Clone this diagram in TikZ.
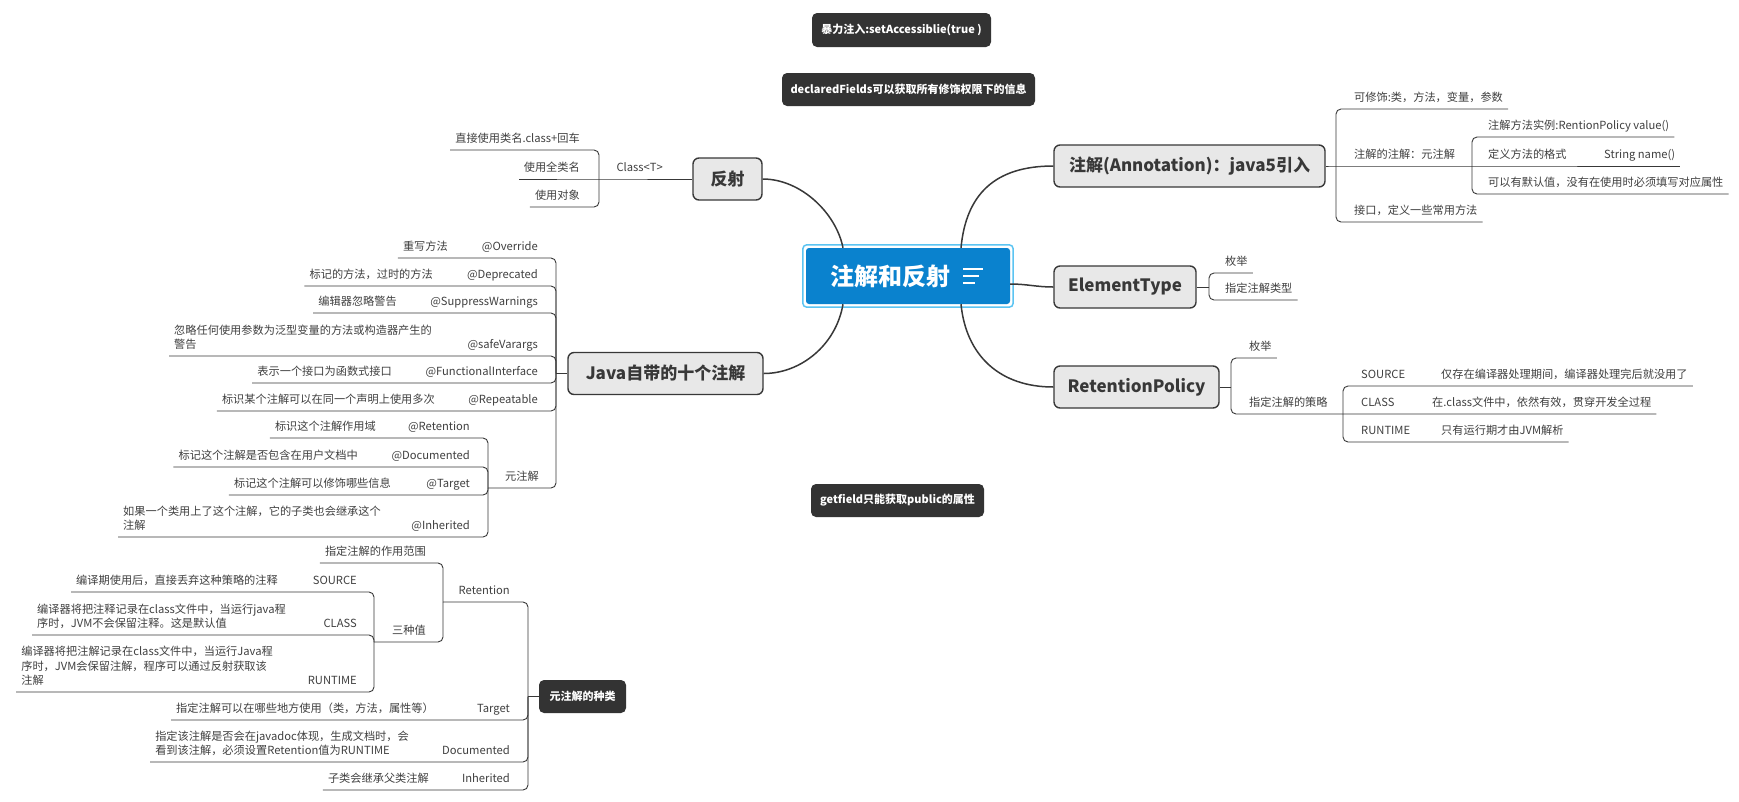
\documentclass[tikz,border=0pt]{standalone}
\usepackage{fontspec}
\setmainfont{Noto Sans CJK SC}
\usetikzlibrary{positioning}
\definecolor{ink}{HTML}{383838}
\definecolor{txt}{HTML}{404040}
\definecolor{topicgray}{HTML}{E8E8E8}
\definecolor{noteblack}{HTML}{333333}
\definecolor{rootblue}{HTML}{0A82CE}
\definecolor{rootedge}{HTML}{5BC4F2}
\newcommand\mlines[1]{\begin{tabular}[b]{@{}l@{}}#1\end{tabular}}
\tikzset{
  root/.style={fill=rootblue, rounded corners=3, minimum width=204, minimum height=56, inner sep=0,
    text=white, font=\fontsize{24}{28}\selectfont\bfseries},
  rootring/.style={draw=rootedge, line width=1.5, rounded corners=4},
  topic/.style={draw=ink, line width=1.4, fill=topicgray, rounded corners=6, minimum height=42,
    inner sep=0, text=ink, font=\fontsize{17}{20}\selectfont\bfseries},
  note/.style={fill=noteblack, rounded corners=5, minimum height=33, inner sep=0,
    text=white, font=\fontsize{11}{13}\selectfont\bfseries},
  leaf/.style={inner xsep=5, inner ysep=0, text depth=7, text=txt, font=\fontsize{11.2}{14.5}\selectfont},
  rleaf/.style={leaf, anchor=south west},
  lleaf/.style={leaf, anchor=south east},
  bline/.style={draw=ink, line width=0.9, rounded corners=5},
  rootlink/.style={draw=ink, line width=1.5},
}
\begin{document}
\begin{tikzpicture}[x=1pt,y=-1pt]
    \useasboundingbox[fill=white] (0,0) rectangle (1739,801);

    % central topic
    \node[root] (ctr) at (908,276) {注解和反射\hspace{36pt}\null};
    \draw[rootring] ([shift={(-3,-3)}]ctr.north west) rectangle ([shift={(3,3)}]ctr.south east);
    \foreach \len/\dy in {20/-7,16/0,12/7}
        \draw[white, line width=2] ([shift={(55,\dy)}]ctr.center) -- ++(\len,0);

    % floating notes
    \node[note, minimum width=179, minimum height=34] (n1) at (901.5,30) {暴力注入:setAccessiblie(true )};
    \node[note, minimum width=253] (n2) at (908.5,89.5) {declaredFields可以获取所有修饰权限下的信息};
    \node[note, minimum width=173] (n3) at (897.5,500.5) {getfield只能获取public的属性};

    % main topics
    \node[topic, minimum width=271] (ann) at (1189.5,166) {注解(Annotation)：java5引入};
    \node[topic, minimum width=142] (et) at (1125,287) {ElementType};
    \node[topic, minimum width=165] (rp) at (1136.5,387) {RetentionPolicy};
    \node[topic, minimum width=69] (fs) at (727.5,179) {反射};
    \node[topic, minimum width=195] (jv) at (665.5,373.5) {Java自带的十个注解};

    \draw[rootlink] ([xshift=-65]ctr.north) .. controls +(-7,-35) and +(38,0) .. (fs.east);
    \draw[rootlink] ([xshift=53]ctr.north) .. controls +(5,-53) and +(-59,0) .. (ann.west);
    \draw[rootlink] ([xshift=-65]ctr.south) .. controls +(-7,41) and +(37,0) .. (jv.east);
    \draw[rootlink] ([xshift=53]ctr.south) .. controls +(5,51) and +(-54,0) .. (rp.west);
    \draw[rootlink] ([yshift=-8]ctr.east) to[out=0,in=180] (et.west);

    % Annotation
    \coordinate (annj) at (1336,166);
    \coordinate (a2j) at (1472,166);
    \node[rleaf] (a1) at (1349,109) {可修饰:类，方法，变量，参数};
    \node[rleaf] (a2) at (1349,166) {注解的注解：元注解};
    \node[rleaf] (a21) at (1483,137) {注解方法实例:RentionPolicy value()};
    \node[rleaf] (a22) at (1483,166) {定义方法的格式};
    \node[rleaf] (a22v) at (1599,166) {String name()};
    \node[rleaf] (a23) at (1483,194) {可以有默认值，没有在使用时必须填写对应属性};
    \node[rleaf] (a3) at (1349,222) {接口，定义一些常用方法};
    \draw[bline] (ann.east) -- (annj) -- (a2j) -- (a22v.south east);
    \foreach \n in {a1,a3} \draw[bline] (annj) |- (\n.south east);
    \foreach \n in {a21,a23} \draw[bline] (a2j) |- (\n.south east);

    % ElementType
    \coordinate (etj) at (1209,287);
    \node[rleaf] (e1) at (1220,273) {枚举};
    \node[rleaf] (e2) at (1220,300) {指定注解类型};
    \draw[bline] (et.east) -- (etj);
    \foreach \n in {e1,e2} \draw[bline] (etj) |- (\n.south east);

    % RetentionPolicy
    \coordinate (rpj) at (1231,387);
    \coordinate (r2j) at (1343,414);
    \node[rleaf] (r1) at (1244,358) {枚举};
    \node[rleaf] (r2) at (1244,414) {指定注解的策略};
    \node[rleaf] (r21) at (1356,386) {SOURCE};
    \node[rleaf] (r21v) at (1436,386) {仅存在编译器处理期间，编译器处理完后就没用了};
    \node[rleaf] (r22) at (1356,414) {CLASS};
    \node[rleaf] (r22v) at (1427,414) {在.class文件中，依然有效，贯穿开发全过程};
    \node[rleaf] (r23) at (1356,442) {RUNTIME};
    \node[rleaf] (r23v) at (1436,442) {只有运行期才由JVM解析};
    \draw[bline] (rp.east) -- (rpj);
    \draw[bline] (rpj) |- (r1.south east);
    \draw[bline] (rpj) |- (r2j) -- (r22v.south east);
    \foreach \n in {r21v,r23v} \draw[bline] (r2j) |- (\n.south east);

    % reflection
    \coordinate (f1j) at (599,179);
    \node[lleaf] (f1) at (668,179) {Class<T>};
    \node[lleaf] (f11) at (585,150) {直接使用类名.class+回车};
    \node[lleaf] (f12) at (585,179) {使用全类名};
    \node[lleaf] (f13) at (585,207) {使用对象};
    \draw[bline] (fs.west) -- (f1j) -- (f12.south west);
    \foreach \n in {f11,f13} \draw[bline] (f1j) |- (\n.south west);

    % Java built-in annotations
    \coordinate (jvj) at (556,373.5);
    \coordinate (j7j) at (488,488);
    \node[lleaf] (j1) at (543,258) {@Override};
    \node[lleaf] (j1v) at (453,258) {重写方法};
    \node[lleaf] (j2) at (543,286) {@Deprecated};
    \node[lleaf] (j2v) at (438,286) {标记的方法，过时的方法};
    \node[lleaf] (j3) at (543,313) {@SuppressWarnings};
    \node[lleaf] (j3v) at (402,313) {编辑器忽略警告};
    \node[lleaf] (j4) at (543,356) {@safeVarargs};
    \node[lleaf] (j4v) at (437,356) {\mlines{忽略任何使用参数为泛型变量的方法或构造器产生的\\警告}};
    \node[lleaf] (j5) at (543,383) {@FunctionalInterface};
    \node[lleaf] (j5v) at (397,383) {表示一个接口为函数式接口};
    \node[lleaf] (j6) at (543,411) {@Repeatable};
    \node[lleaf] (j6v) at (440,411) {标识某个注解可以在同一个声明上使用多次};
    \node[lleaf] (j7) at (544,488) {元注解};
    \node[lleaf] (m1) at (475,438) {@Retention};
    \node[lleaf] (m1v) at (381,438) {标识这个注解作用域};
    \node[lleaf] (m2) at (475,467) {@Documented};
    \node[lleaf] (m2v) at (363,467) {标记这个注解是否包含在用户文档中};
    \node[lleaf] (m3) at (475,495) {@Target};
    \node[lleaf] (m3v) at (396,495) {标记这个注解可以修饰哪些信息};
    \node[lleaf] (m4) at (475,537) {@Inherited};
    \node[lleaf] (m4v) at (386,537) {\mlines{如果一个类用上了这个注解，它的子类也会继承这个\\注解}};
    \draw[bline] (jv.west) -- (jvj);
    \foreach \n in {j1v,j2v,j3v,j4v,j5v,j6v} \draw[bline] (jvj) |- (\n.south west);
    \draw[bline] (jvj) |- (j7j);
    \foreach \n in {m1v,m2v,m3v,m4v} \draw[bline] (j7j) |- (\n.south west);

    % kinds of meta annotations
    \node[note, minimum width=87] (kind) at (582.5,696.5) {元注解的种类};
    \coordinate (kindj) at (528,696.5);
    \coordinate (k1j) at (443,602);
    \coordinate (k12j) at (374,642);
    \node[lleaf] (k1) at (515,602) {Retention};
    \node[lleaf] (k11) at (431,563) {指定注解的作用范围};
    \node[lleaf] (k12) at (431,642) {三种值};
    \node[lleaf] (k121) at (362,592) {SOURCE};
    \node[lleaf] (k121v) at (283,592) {编译期使用后，直接丢弃这种策略的注释};
    \node[lleaf] (k122) at (362,635) {CLASS};
    \node[lleaf] (k122v) at (291,635) {\mlines{编译器将把注释记录在class文件中，当运行java程\\序时，JVM不会保留注释。这是默认值}};
    \node[lleaf] (k123) at (362,692) {RUNTIME};
    \node[lleaf] (k123v) at (278,692) {\mlines{编译器将把注解记录在class文件中，当运行Java程\\序时，JVM会保留注解，程序可以通过反射获取该\\注解}};
    \node[lleaf] (k2) at (515,720) {Target};
    \node[lleaf] (k2v) at (439,720) {指定注解可以在哪些地方使用（类，方法，属性等）};
    \node[lleaf] (k3) at (515,762) {Documented};
    \node[lleaf] (k3v) at (414,762) {\mlines{指定该注解是否会在javadoc体现，生成文档时，会\\看到该注解，必须设置Retention值为RUNTIME}};
    \node[lleaf] (k4) at (515,790) {Inherited};
    \node[lleaf] (k4v) at (434,790) {子类会继承父类注解};
    \draw[bline] (kind.west) -- (kindj);
    \foreach \n in {k1j,k2v,k3v,k4v} \draw[bline] (kindj) |- (\n.south west);
    \draw[bline] (k1j) |- (k11.south west);
    \draw[bline] (k1j) |- (k12j);
    \foreach \n in {k121v,k122v,k123v} \draw[bline] (k12j) |- (\n.south west);
\end{tikzpicture}
\end{document}
